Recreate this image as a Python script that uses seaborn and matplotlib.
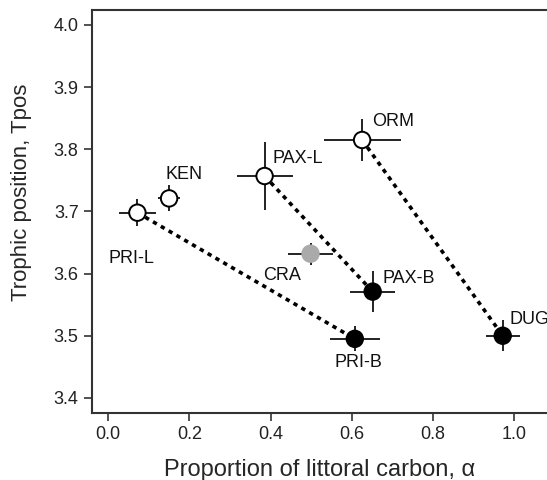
import matplotlib
matplotlib.use("Agg")
import matplotlib.pyplot as plt
import seaborn as sns
import pandas as pd

# values
names = ['PRI-L', 'KEN', 'PAX-L', 'ORM', 'CRA', 'PAX-B', 'PRI-B', 'DUG']
alpha = [0.072, 0.150, 0.385, 0.625, 0.498, 0.651, 0.607, 0.971]
tpos = [3.698, 3.721, 3.757, 3.815, 3.632, 3.571, 3.495, 3.500]
alpha_err = [0.045, 0.027, 0.069, 0.095, 0.055, 0.055, 0.061, 0.042]
tpos_err = [0.022, 0.021, 0.054, 0.034, 0.018, 0.033, 0.020, 0.025]
habitat = ['L', 'L', 'L', 'L', 'G', 'B', 'B', 'B']
pairs = [('PRI-L', 'PRI-B'), ('PAX-L', 'PAX-B'), ('ORM', 'DUG')]

df = pd.DataFrame({'name': names, 'alpha': alpha, 'tpos': tpos,
                   'xerr': alpha_err, 'yerr': tpos_err, 'hab': habitat})

sns.set_theme(style='ticks')
plt.rcParams['font.family'] = ['Liberation Sans', 'DejaVu Sans']

fig, ax = plt.subplots(figsize=(5.47, 4.8), dpi=100)
fig.subplots_adjust(left=0.168, right=1.0, top=0.979, bottom=0.14)

# dotted lines between paired populations
for a, b in pairs:
    sub = df.set_index('name').loc[[a, b]]
    sns.lineplot(x=sub['alpha'].values, y=sub['tpos'].values, ax=ax, color='black',
                 linestyle=(0, (1.2, 1.3)), linewidth=2.6, sort=False, zorder=1)

ax.errorbar(df['alpha'], df['tpos'], xerr=df['xerr'], yerr=df['yerr'], fmt='none',
            ecolor='#222222', elinewidth=1.4, capsize=0, zorder=2)

fill = {'L': 'white', 'B': 'black', 'G': '#aaaaaa'}
edge = {'L': 'black', 'B': 'black', 'G': '#aaaaaa'}
sns.scatterplot(data=df, x='alpha', y='tpos', hue='hab', palette=fill, s=140,
                edgecolor=[edge[h] for h in df['hab']], linewidth=1.4, legend=False,
                ax=ax, zorder=3)

# label offsets in pixels (left edge, baseline)
offsets = {'PRI-L': (-29, -50), 'KEN': (-4, 19), 'PAX-L': (8, 13), 'ORM': (10, 14),
           'CRA': (-47, -26), 'PAX-B': (10, 9), 'PRI-B': (-20, -28), 'DUG': (7, 12)}
for n, x, y in zip(names, alpha, tpos):
    ax.annotate(n, (x, y), xytext=offsets[n], textcoords='offset pixels',
                ha='left', va='baseline', fontsize=13, color='#111111')

ax.set_xlim(-0.04, 1.08)
ax.set_ylim(3.376, 4.024)
ax.set_xticks([0.0, 0.2, 0.4, 0.6, 0.8, 1.0])
ax.set_xticklabels(['0.0', '0.2', '0.4', '0.6', '0.8', '1.0'])
ax.set_yticks([3.4, 3.5, 3.6, 3.7, 3.8, 3.9, 4.0])
ax.set_yticklabels(['3.4', '3.5', '3.6', '3.7', '3.8', '3.9', '4.0'])
ax.tick_params(labelsize=13, length=6, width=1.2, color='#333333', labelcolor='#222222')
for s in ax.spines.values():
    s.set_linewidth(1.5)
    s.set_color('#333333')
ax.spines['right'].set_visible(False)

ax.set_xlabel('Proportion of littoral carbon, α', fontsize=17)
ax.set_ylabel('Trophic position, Tpos', fontsize=16)
ax.xaxis.set_label_coords(0.5, -0.114)
ax.yaxis.set_label_coords(-0.132, 0.548)

fig.savefig('out.png', dpi=100)
